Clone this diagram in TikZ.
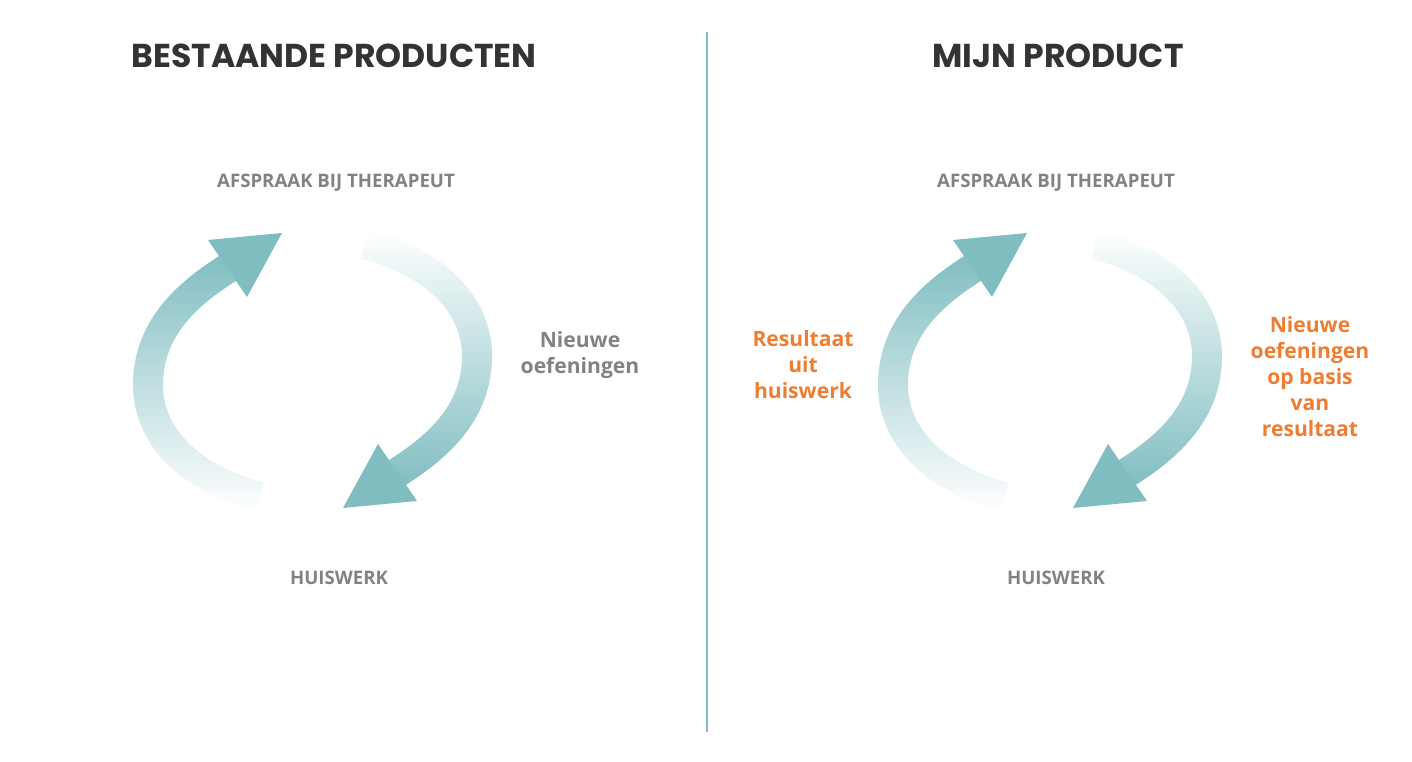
\documentclass[tikz,border=0pt]{standalone}
\usepackage{fontspec}
\setmainfont{Open Sans}
\newfontfamily\headfont{Poppins}
\usepackage{tikz}
\usetikzlibrary{fadings}
\usepackage{xcolor}
\definecolor{arrowteal}{RGB}{127,189,193}
\definecolor{headdark}{RGB}{51,51,51}
\definecolor{labelgray}{RGB}{130,130,130}
\definecolor{noteorange}{RGB}{239,125,49}
\tikzfading[name=fadedown, top color=transparent!0, bottom color=transparent!100]
\tikzfading[name=fadeup, top color=transparent!100, bottom color=transparent!0]

\begin{document}
\begin{tikzpicture}[x=0.01cm,y=-0.01cm,
  heading/.style={font=\headfont\bfseries\fontsize{9.4}{11}\selectfont, text=headdark},
  station/.style={font=\bfseries\fontsize{5.3}{6.5}\selectfont, text=labelgray},
  note/.style={font=\bfseries\fontsize{6}{7.4}\selectfont, align=center},
  band/.style={draw=arrowteal, line width=0.3cm},
  tip/.style={fill=arrowteal, draw=none}]
\useasboundingbox (0,0) rectangle (1412,762);
% titles and divider
\node[heading] (oldtitle) at (334,56) {BESTAANDE PRODUCTEN};
\node[heading] (newtitle) at (1058,56) {MIJN PRODUCT};
\draw[arrowteal, line width=0.45pt] (707,32) -- (707,732);
% existing products cycle
\node[station] (oldtop) at (336,183) {AFSPRAAK BIJ THERAPEUT};
\node[station] (oldbottom) at (339,578) {HUISWERK};
\draw[band, path fading=fadedown] (260,497) .. controls (195,480) and (148,440) .. (148,385) .. controls (148,330) and (185,295) .. (230,267);
\fill[tip] (208,240) -- (282,233) -- (247,297) -- cycle;
\draw[band, path fading=fadeup] (365,244) .. controls (430,261) and (477,301) .. (477,356) .. controls (477,411) and (440,446) .. (395,474);
\fill[tip] (417,501) -- (343,508) -- (378,444) -- cycle;
\node[note, text=labelgray] (oldnote) at (580,355) {Nieuwe\\oefeningen};
% my product cycle
\node[station] (newtop) at (1056,183) {AFSPRAAK BIJ THERAPEUT};
\node[station] (newbottom) at (1056,578) {HUISWERK};
\begin{scope}[shift={(745,0)}]
\draw[band, path fading=fadedown] (260,497) .. controls (195,480) and (148,440) .. (148,385) .. controls (148,330) and (185,295) .. (230,267);
\fill[tip] (208,240) -- (282,233) -- (247,297) -- cycle;
\end{scope}
\begin{scope}[shift={(730,0)}]
\draw[band, path fading=fadeup] (365,244) .. controls (430,261) and (477,301) .. (477,356) .. controls (477,411) and (440,446) .. (395,474);
\fill[tip] (417,501) -- (343,508) -- (378,444) -- cycle;
\end{scope}
\node[note, text=noteorange] (resultnote) at (803,365) {Resultaat\\uit\\huiswerk};
\node[note, text=noteorange] (newnote) at (1310,377) {Nieuwe\\oefeningen\\op basis\\van\\resultaat};
\end{tikzpicture}
\end{document}
